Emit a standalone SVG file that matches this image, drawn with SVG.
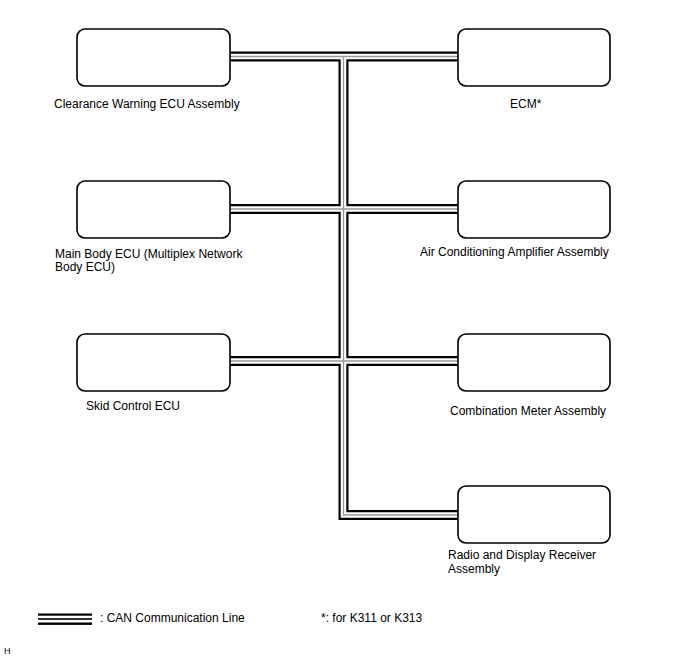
<svg xmlns="http://www.w3.org/2000/svg" width="688" height="658" viewBox="0 0 688 658">
<style>
.box{fill:#fff;stroke:#000;stroke-width:1.6}
text{font-family:"Liberation Sans",Arial,sans-serif;font-size:12px;fill:#000}
.b1{fill:none;stroke:#000;stroke-width:10;stroke-linejoin:miter}
.b2{fill:none;stroke:#fff;stroke-width:5.6;stroke-linejoin:miter}
.b3{fill:none;stroke:#999;stroke-width:1.3;stroke-linejoin:miter}
</style>
<rect width="688" height="658" fill="#fff"/>
<defs>
<path id="bus" d="M230,56.5 H458 M343.5,56.5 V515 H458 M230,209 H458 M230,361 H458"/>
</defs>
<g id="connectors">
<use href="#bus" class="b1"/>
<use href="#bus" class="b2"/>
<use href="#bus" class="b3"/>
</g>
<g id="clearance">
<rect class="box" x="77" y="29" width="153" height="57" rx="8"/>
<text x="54" y="108">Clearance Warning ECU Assembly</text>
</g>
<g id="ecm">
<rect class="box" x="458" y="29" width="152" height="57" rx="8"/>
<text x="510" y="108">ECM*</text>
</g>
<g id="mainbody">
<rect class="box" x="77" y="181" width="153" height="57" rx="8"/>
<text x="55" y="258">Main Body ECU (Multiplex Network</text>
<text x="55" y="271">Body ECU)</text>
</g>
<g id="aircon">
<rect class="box" x="458" y="181" width="152" height="57" rx="8"/>
<text x="420" y="256">Air Conditioning Amplifier Assembly</text>
</g>
<g id="skid">
<rect class="box" x="77" y="334" width="153" height="57" rx="8"/>
<text x="86" y="410">Skid Control ECU</text>
</g>
<g id="combo">
<rect class="box" x="458" y="334" width="152" height="57" rx="8"/>
<text x="450" y="415">Combination Meter Assembly</text>
</g>
<g id="radio">
<rect class="box" x="458" y="486" width="152" height="57" rx="8"/>
<text x="448" y="559">Radio and Display Receiver</text>
<text x="448" y="573">Assembly</text>
</g>
<g id="legend">
<rect x="38" y="613.5" width="54" height="2.2" fill="#000"/>
<rect x="38" y="618" width="54" height="2" fill="#333"/>
<rect x="38" y="622.5" width="54" height="2.4" fill="#000"/>
<text x="100" y="622">: CAN Communication Line</text>
<text x="321" y="622">*: for K311 or K313</text>
</g>
<text x="4" y="654" style="font-size:9px">H</text>
</svg>
